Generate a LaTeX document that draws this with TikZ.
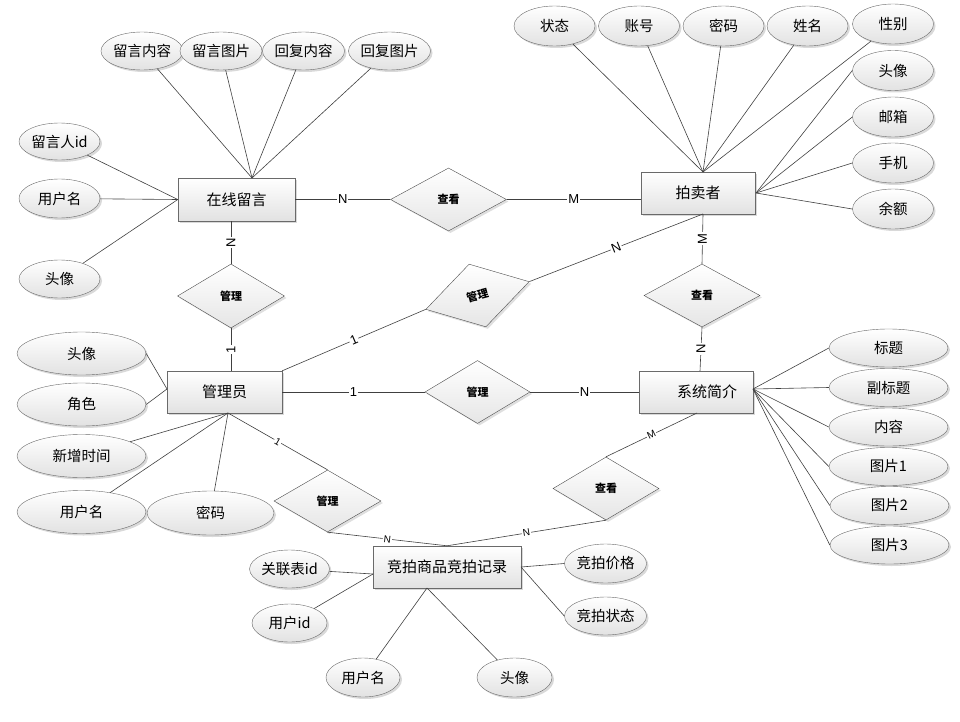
\documentclass[tikz,border=0pt]{standalone}
\usepackage{fontspec}
\setmainfont{Noto Sans CJK SC}
\newfontfamily\cardfont{Liberation Sans}
\usetikzlibrary{shapes.geometric,shadows}
\definecolor{edgegray}{HTML}{6A6A6A}
\definecolor{fillgray}{HTML}{E2E2E2}
\begin{document}
\begin{tikzpicture}[x=1pt,y=-1pt,
    entity/.style={draw=edgegray, rectangle, top color=white, bottom color=fillgray,
      drop shadow={shadow xshift=2pt,shadow yshift=-2pt,opacity=0.3},
      minimum width=115pt, minimum height=42pt, inner sep=0pt,
      font=\fontsize{15}{15}\selectfont},
    attr/.style={draw=edgegray, ellipse, top color=white, bottom color=fillgray,
      drop shadow={shadow xshift=2pt,shadow yshift=-2pt,opacity=0.3},
      minimum width=81pt, minimum height=39pt, inner sep=0pt,
      font=\fontsize{14.5}{15}\selectfont},
    rel/.style={draw=black!70, diamond, top color=white, bottom color=black!10,
      drop shadow={shadow xshift=2pt,shadow yshift=-2pt,opacity=0.25},
      minimum width=107pt, minimum height=63pt, inner sep=0pt,
      font=\fontsize{11}{11}\selectfont\bfseries},
    link/.style={draw=black!75, line width=0.6pt},
    card/.style={fill=white, inner sep=1pt, font=\cardfont\fontsize{13}{13}\selectfont},
    cardsmall/.style={card, font=\cardfont\fontsize{10}{10}\selectfont}]
    \useasboundingbox (0,0) rectangle (960,722);

    \node[entity, minimum width=117pt, minimum height=43pt] (msg) at (236.5,199.5) {在线留言};
    \node[entity, minimum width=114pt] (bidder) at (698,193) {拍卖者};
    \node[entity] (admin) at (224.5,392) {管理员};
    \node[entity, minimum width=114pt] (intro) at (696,392) {\hspace*{22pt}系统简介};
    \node[entity, minimum width=148pt] (record) at (447,567) {竞拍商品竞拍记录};

    \node[rel, minimum width=116pt] (seeMsg) at (448.5,199.5) {查看};
    \node[rel, minimum height=64pt] (mgrMsg) at (231,296) {管理};
    \node[rel, minimum height=65pt, rotate=15] (mgrBid) at (477.5,295.5) {管理};
    \node[rel, minimum width=116pt] (seeIntro) at (702,295.5) {查看};
    \node[rel, minimum width=105pt] (mgrIntro) at (477.5,392) {管理};
    \node[rel, minimum height=62pt] (mgrRec) at (327.5,501) {管理};
    \node[rel, minimum width=106pt] (seeRec) at (606,488.5) {查看};

    \node[attr, minimum width=74pt, minimum height=38pt] (m1) at (142,51) {留言内容};
    \node[attr, minimum width=75pt, minimum height=38pt] (m2) at (221,51) {留言图片};
    \node[attr, minimum height=38pt] (m3) at (303.5,51) {回复内容};
    \node[attr, minimum height=38pt] (m4) at (389.5,51) {回复图片};
    \node[attr, minimum height=37pt] (m5) at (59.5,141.5) {留言人id};
    \node[attr] (m6) at (59.5,198.5) {用户名};
    \node[attr, minimum height=38pt] (m7) at (59.5,279) {头像};

    \node[attr, minimum height=40pt] (b1) at (554.5,26) {状态};
    \node[attr, minimum height=40pt] (b2) at (639,26) {账号};
    \node[attr, minimum height=40pt] (b3) at (723.5,26) {密码};
    \node[attr, minimum height=40pt] (b4) at (807.5,26) {姓名};
    \node[attr, minimum height=40pt] (b5) at (893,24) {性别};
    \node[attr, minimum height=40pt] (b6) at (893,70.5) {头像};
    \node[attr, minimum height=40pt] (b7) at (893,117) {邮箱};
    \node[attr, minimum height=40pt] (b8) at (893,163) {手机};
    \node[attr, minimum height=40pt] (b9) at (893,209) {余额};

    \node[attr, minimum width=129pt, minimum height=43pt] (a1) at (81.5,353.5) {头像};
    \node[attr, minimum width=129pt, minimum height=43pt] (a2) at (81.5,404.5) {角色};
    \node[attr, minimum width=129pt, minimum height=43pt] (a3) at (81.5,456) {新增时间};
    \node[attr, minimum width=129pt, minimum height=43pt] (a4) at (81.5,512) {用户名};
    \node[attr, minimum width=127pt, minimum height=44pt] (a5) at (210.5,513) {密码};

    \node[attr, minimum width=119pt, minimum height=38pt] (s1) at (888.5,348) {标题};
    \node[attr, minimum width=119pt, minimum height=38pt] (s2) at (888.5,387.5) {副标题};
    \node[attr, minimum width=119pt, minimum height=38pt] (s3) at (888.5,427) {内容};
    \node[attr, minimum width=119pt, minimum height=38pt] (s4) at (888.5,466.5) {图片1};
    \node[attr, minimum width=119pt, minimum height=38pt] (s5) at (889.5,505.5) {图片2};
    \node[attr, minimum width=119pt, minimum height=38pt] (s6) at (889.5,545) {图片3};

    \node[attr, minimum width=75pt, minimum height=38pt] (r1) at (289.5,569) {关联表id};
    \node[attr, minimum width=75pt, minimum height=38pt] (r2) at (289.5,623) {用户id};
    \node[attr, minimum width=74pt] (r3) at (363,677.5) {用户名};
    \node[attr, minimum width=75pt] (r4) at (514.5,677.5) {头像};
    \node[attr, minimum width=75pt] (r5) at (605.5,563.5) {竞拍价格};
    \node[attr, minimum width=75pt, minimum height=38pt] (r6) at (605.5,616) {竞拍状态};

    \coordinate (msgTop) at (252,178);
    \coordinate (bidTop) at (703,172);
    \coordinate (bidEast) at (756,193);
    \coordinate (bidBot) at (703,214);
    \coordinate (admWest) at (167,389);
    \coordinate (admBot) at (228,413);
    \coordinate (introTop) at (700,371);
    \coordinate (introBot) at (697,413);
    \coordinate (introEast) at (753,389);
    \coordinate (recWest) at (373,574);
    \coordinate (recEast) at (521,567);
    \coordinate (recBot) at (427,588);

    \foreach \a in {m1,m2,m3,m4} \draw[link] (\a) -- (msgTop);
    \foreach \a in {m5,m6,m7} \draw[link] (\a) -- (msg.west);
    \foreach \a in {b1,b2,b3,b4,b5} \draw[link] (\a) -- (bidTop);
    \foreach \a in {b6,b7,b8,b9} \draw[link] (\a.west) -- (bidEast);
    \foreach \a in {a1,a2} \draw[link] (\a.east) -- (admWest);
    \foreach \a in {a3,a4,a5} \draw[link] (\a) -- (admBot);
    \foreach \a in {s1,s2,s3,s4,s5,s6} \draw[link] (\a.west) -- (introEast);
    \foreach \a in {r1,r2} \draw[link] (\a) -- (recWest);
    \foreach \a in {r3,r4} \draw[link] (\a) -- (recBot);
    \foreach \a in {r5,r6} \draw[link] (\a.west) -- (recEast);

    \draw[link] (msg) -- node[card] {N} (seeMsg);
    \draw[link] (seeMsg.east) -- node[card] {M} (seeMsg.east -| bidder.west);
    \draw[link] (mgrMsg.north |- msg.south) -- node[card, rotate=90] {N} (mgrMsg.north);
    \draw[link] (mgrMsg.south) -- node[card, rotate=90] {1} (mgrMsg.south |- admin.north);
    \draw[link] (admin.north east) -- node[card, sloped] {1} (mgrBid.west);
    \draw[link] (mgrBid.east) -- node[card, sloped] {N} (bidBot);
    \draw[link] (bidBot) -- node[card, rotate=90] {M} (seeIntro.north);
    \draw[link] (seeIntro.south) -- node[card, rotate=90] {N} (introTop);
    \draw[link] (admin.east) -- node[card] {1} (mgrIntro.west);
    \draw[link] (mgrIntro.east) -- node[card] {N} (intro.west);
    \draw[link] (admBot) -- node[cardsmall, sloped] {1} (mgrRec.north);
    \draw[link] (mgrRec.south) -- node[cardsmall, sloped] {N} (record.north);
    \draw[link] (seeRec.north) -- node[cardsmall, sloped] {M} (introBot);
    \draw[link] (seeRec.south) -- node[cardsmall, sloped] {N} (record.north);
\end{tikzpicture}
\end{document}
